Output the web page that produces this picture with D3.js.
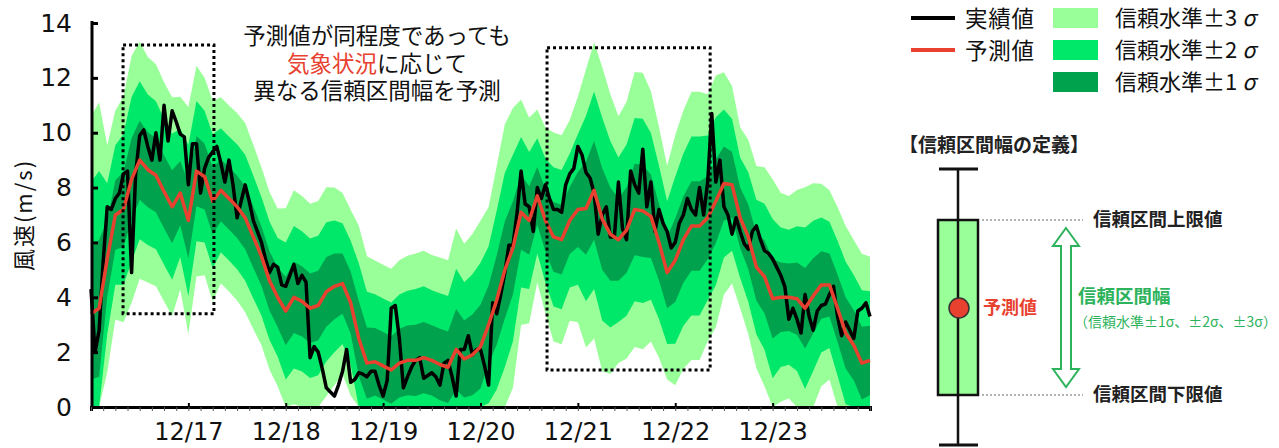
<!DOCTYPE html>
<html>
<head>
<meta charset="utf-8">
<script src="https://cdn.jsdelivr.net/npm/d3@7"></script>
<style>
  body { margin: 0; background: #fff; }
  svg { display: block; }
  text { font-family: "Noto Sans CJK JP", sans-serif; }
</style>
</head>
<body>
<script>
// hourly measured wind speed, 12/16 00:00 .. 12/24 00:00
const hoursActual = d3.range(0, 193);
const actual = [
  4.3, 2.0, 2.8, 5.3, 7.3, 7.2, 7.6, 7.8, 8.5, 8.6,
  4.9, 8.5, 9.9, 10.1, 9.5, 9.0, 10.0, 9.0, 11.0, 9.7,
  10.8, 10.4, 9.95, 9.85, 8.1, 9.6, 9.6, 7.8, 8.7, 9.1,
  9.3, 9.5, 8.9, 8.2, 9.0, 8.1, 6.9, 7.5, 8.1, 7.5,
  6.8, 6.4, 6.0, 5.4, 4.9, 5.2, 5.1, 4.45, 4.4, 4.8,
  5.2, 4.5, 4.8, 4.55, 1.8, 2.2, 2.0, 1.4, 0.7, 0.55,
  0.4, 0.8, 1.3, 2.1, 0.9, 1.0, 1.25, 1.2, 1.1, 1.3,
  1.3, 0.8, 0.4, 0.97, 3.6, 3.7, 2.5, 0.7, 1.1, 1.45,
  1.7, 1.8, 1.05, 1.15, 1.25, 1.1, 0.8, 1.6, 1.7, 1.1,
  0.4, 2.1, 2.1, 2.6, 1.9, 2.1, 2.1, 1.5, 0.8, 3.8,
  3.4, 4.1, 4.9, 5.9, 5.9, 7.06, 8.6, 7.4, 7.3, 6.4,
  8.0, 7.6, 8.1, 7.6, 7.2, 7.2, 7.1, 8.1, 8.5, 8.7,
  9.5, 9.2, 8.55, 8.35, 7.8, 6.3, 7.0, 7.3, 6.2, 6.2,
  8.2, 6.5, 6.1, 8.6, 8.1, 7.8, 9.4, 7.3, 8.2, 6.4,
  7.2, 6.7, 6.4, 5.8, 6.0, 6.7, 7.0, 7.6, 7.2, 7.0,
  8.0, 7.0, 8.2, 10.7, 8.2, 9.0, 7.3, 7.0, 6.3, 6.9,
  6.4, 5.95, 5.75, 6.4, 6.6, 6.1, 5.7, 5.6, 5.4, 5.1,
  4.8, 4.4, 3.2, 3.6, 3.2, 2.7, 4.1, 3.3, 2.8, 3.5,
  3.7, 3.75, 4.1, 4.4, 3.3, 2.6, 3.1, 2.8, 2.5, 3.5,
  3.6, 3.8, 3.3
];

// forecast and its sigma, every 2 hours
const hoursPred = d3.range(0, 193, 2);
const predicted = [
  3.4, 3.6, 5.4, 7.0, 7.2, 8.3, 9.0, 8.65, 8.45, 7.85,
  7.3, 7.8, 6.8, 8.6, 8.4, 7.5, 7.9, 7.6, 7.3, 6.9,
  6.2, 5.5, 4.6, 4.0, 3.5, 4.0, 3.85, 3.6, 3.7, 4.2,
  4.4, 4.5, 3.8, 2.5, 1.6, 1.65, 1.5, 1.35, 1.6, 1.7,
  1.7, 1.8, 1.7, 1.55, 1.45, 2.1, 1.75, 1.9, 2.2, 3.0,
  3.9, 5.0, 5.8, 7.1, 6.8, 7.7, 6.8, 6.2, 6.1, 6.8,
  7.2, 7.24, 7.9, 6.85, 6.3, 6.1, 6.45, 7.2, 7.15, 6.95,
  6.0, 4.9, 5.35, 6.1, 6.6, 6.6, 6.9, 7.5, 8.15, 8.1,
  6.9, 6.2, 5.1, 4.75, 3.95, 4.0, 4.0, 3.95, 3.6, 4.05,
  4.45, 4.45, 3.6, 2.7, 2.25, 1.6, 1.7
];
const sigma = [
  2.4, 2.5, 1.38, 1.27, 1.37, 1.5, 1.44, 1.37, 1.35, 1.33,
  1.33, 1.17, 1.38, 1.28, 1.2, 1.22, 1.13, 1.13, 1.14, 1.15,
  1.12, 1.08, 1.08, 1.08, 1.25, 1.3, 1.28, 1.27, 1.27, 1.27,
  1.2, 1.1, 1.13, 1.37, 1.3, 1.23, 1.23, 1.23, 1.25, 1.27,
  1.3, 1.3, 1.28, 1.3, 1.3, 1.47, 1.4, 1.47, 1.53, 1.43,
  1.63, 1.77, 1.7, 1.37, 1.25, 1.05, 1.13, 1.27, 1.27, 1.22,
  1.37, 1.69, 1.8, 1.85, 1.7, 1.5, 1.56, 1.67, 1.68, 1.52,
  1.4, 1.3, 1.52, 1.57, 1.63, 1.63, 1.5, 1.53, 1.35, 1.2,
  1.1, 1.18, 1.23, 1.33, 1.45, 1.27, 1.23, 1.32, 1.47, 1.37,
  1.23, 1.15, 1.23, 1.3, 1.28, 1.33, 1.26
];

const dayHours = [24, 48, 72, 96, 120, 144, 168];
const dayLabels = ["12/17", "12/18", "12/19", "12/20", "12/21", "12/22", "12/23"];
const yTicks = [0, 2, 4, 6, 8, 10, 12, 14];
const levels = [3, 2, 1];
const levelColors = ["#99ff99", "#00e86a", "#00a24e"];
// highlighted periods (hour from, hour to, value low, value high)
const boxes = [
  [7.9, 30.3, 3.4, 13.2],
  [112.4, 152.6, 1.35, 13.1],
];

const width = 1279;
const height = 448;
const red = "#e8412f";
const green = "#2db35c";
const numFont = '"DejaVu Sans", sans-serif';

const svg = d3.select("body").append("svg")
  .attr("width", width)
  .attr("height", height);

const x = d3.scaleLinear([0, 192], [91, 870]);
const y = d3.scaleLinear([0, 14], [407, 23]);

// confidence bands
levels.forEach((k, j) => {
  const area = d3.area()
    .x((d) => x(d))
    .y0((d, i) => y(Math.max(0, predicted[i] - k * sigma[i])))
    .y1((d, i) => y(Math.min(14, predicted[i] + k * sigma[i])));
  svg.append("path")
    .datum(hoursPred)
    .attr("fill", levelColors[j])
    .attr("d", area);
});

// lines
svg.append("path")
  .datum(actual)
  .attr("fill", "none")
  .attr("stroke", "#000")
  .attr("stroke-width", 3.5)
  .attr("stroke-linejoin", "round")
  .attr("d", d3.line().x((d, i) => x(hoursActual[i])).y((d) => y(d)));

svg.append("path")
  .datum(predicted)
  .attr("fill", "none")
  .attr("stroke", red)
  .attr("stroke-width", 3.5)
  .attr("stroke-linejoin", "round")
  .attr("d", d3.line().x((d, i) => x(hoursPred[i])).y((d) => y(d)));

// dotted boxes
svg.append("g")
  .selectAll("rect")
  .data(boxes)
  .join("rect")
  .attr("x", (d) => x(d[0]))
  .attr("y", (d) => y(d[3]))
  .attr("width", (d) => x(d[1]) - x(d[0]))
  .attr("height", (d) => y(d[2]) - y(d[3]))
  .attr("fill", "none")
  .attr("stroke", "#000")
  .attr("stroke-width", 3)
  .attr("stroke-dasharray", "3,3");

// y axis
const yAxis = svg.append("g")
  .attr("transform", `translate(${x(0) + 1},0)`)
  .call(d3.axisLeft(y).tickValues(yTicks).tickSize(-6).tickSizeOuter(0).tickPadding(20));
yAxis.select(".domain").attr("stroke-width", 3).attr("d", `M0,${y(0) + 1.5}V${y(14) - 2}`);
yAxis.selectAll(".tick line").attr("stroke-width", 3);
yAxis.selectAll(".tick text")
  .attr("font-size", 25)
  .attr("fill", "#111")
  .style("font-family", numFont);

// x axis: minor ticks every 3 h, major ticks at midnight
const xMinor = svg.append("g")
  .attr("transform", `translate(0,${y(0)})`)
  .call(d3.axisBottom(x).tickValues(d3.range(0, 193, 3)).tickSize(4).tickFormat(""));
xMinor.select(".domain").attr("stroke-width", 3);
xMinor.selectAll(".tick line").attr("stroke", "#555").attr("stroke-width", 1);

const xAxis = svg.append("g")
  .attr("transform", `translate(0,${y(0)})`)
  .call(d3.axisBottom(x).tickValues(dayHours).tickSize(-4).tickPadding(16)
    .tickFormat((d, i) => dayLabels[i]));
xAxis.select(".domain").remove();
xAxis.selectAll(".tick line").attr("stroke-width", 2);
xAxis.selectAll(".tick text")
  .attr("font-size", 24)
  .attr("fill", "#111")
  .style("font-family", numFont);

svg.append("text")
  .attr("transform", "translate(32,215) rotate(-90)")
  .attr("text-anchor", "middle")
  .attr("font-size", 22)
  .attr("letter-spacing", 2)
  .attr("fill", "#111")
  .text("風速(m/s)");

// annotation, one text block of three lines
const note = svg.append("text")
  .attr("font-size", 22.5)
  .attr("fill", "#111")
  .attr("text-anchor", "middle")
  .attr("y", 44);
note.append("tspan").attr("x", 377).text("予測値が同程度であっても");
note.append("tspan").attr("x", 377).attr("dy", 28).attr("fill", red).text("気象状況");
note.append("tspan").text("に応じて");
note.append("tspan").attr("x", 377).attr("dy", 27).text("異なる信頼区間幅を予測");

// legend
const legend = svg.append("g").attr("fill", "#111");
[["実績値", "#000", 18], ["予測値", red, 50]].forEach(([t, c, yy]) => {
  legend.append("line")
    .attr("x1", 911).attr("x2", 955).attr("y1", yy).attr("y2", yy)
    .attr("stroke", c).attr("stroke-width", 4);
  legend.append("text").attr("x", 965).attr("y", yy + 1).attr("dy", "0.36em")
    .attr("font-size", 22.5).attr("letter-spacing", 0.8).text(t);
});
levels.forEach((k, j) => {
  const yy = 18 + j * 32;
  legend.append("rect")
    .attr("x", 1053).attr("y", yy - 10).attr("width", 45).attr("height", 20)
    .attr("fill", levelColors[j]);
  const t = legend.append("text").attr("x", 1115).attr("y", yy).attr("dy", "0.36em")
    .attr("font-size", 22);
  t.append("tspan").text("信頼水準±");
  t.append("tspan").attr("letter-spacing", 5).text(`${k}`);
  t.append("tspan").attr("font-style", "italic").text("σ");
});

// definition diagram
const def = svg.append("g");
def.append("text")
  .attr("x", 899).attr("y", 145).attr("dy", "0.35em")
  .attr("font-size", 19).attr("font-weight", "bold").attr("fill", "#222")
  .text("【信頼区間幅の定義】");

const cx = 958;
def.append("line").attr("x1", cx).attr("x2", cx).attr("y1", 169).attr("y2", 446)
  .attr("stroke", "#111").attr("stroke-width", 2.5);
[169, 445].forEach((yy) => {
  def.append("line").attr("x1", 939).attr("x2", 978).attr("y1", yy).attr("y2", yy)
    .attr("stroke", "#111").attr("stroke-width", 3);
});
def.append("rect")
  .attr("x", 938).attr("y", 220).attr("width", 40).attr("height", 175)
  .attr("fill", "#99ff99").attr("stroke", "#111").attr("stroke-width", 2.5);
def.append("line").attr("x1", cx).attr("x2", cx).attr("y1", 220).attr("y2", 395)
  .attr("stroke", "#111").attr("stroke-width", 2.5);
def.append("circle").attr("cx", cx + 1).attr("cy", 308).attr("r", 10)
  .attr("fill", red).attr("stroke", "#333").attr("stroke-width", 1.5);
def.append("text").attr("x", 983).attr("y", 308).attr("dy", "0.35em")
  .attr("font-size", 18).attr("font-weight", "bold").attr("fill", red).text("予測値");

[220, 395].forEach((yy) => {
  def.append("line").attr("x1", 982).attr("x2", 1083).attr("y1", yy).attr("y2", yy)
    .attr("stroke", "#999").attr("stroke-width", 1.5).attr("stroke-dasharray", "2,2");
});
def.append("text").attr("x", 1093).attr("y", 220).attr("dy", "0.35em")
  .attr("font-size", 18.5).attr("font-weight", "bold").attr("fill", "#222").text("信頼区間上限値");
def.append("text").attr("x", 1093).attr("y", 395).attr("dy", "0.35em")
  .attr("font-size", 18.5).attr("font-weight", "bold").attr("fill", "#222").text("信頼区間下限値");

const ax = 1066, arrowTop = 228, arrowBot = 387;
const arrow = [
  [ax, arrowTop], [ax + 13, arrowTop + 18], [ax + 5, arrowTop + 18], [ax + 5, arrowBot - 18],
  [ax + 13, arrowBot - 18], [ax, arrowBot], [ax - 13, arrowBot - 18], [ax - 5, arrowBot - 18],
  [ax - 5, arrowTop + 18], [ax - 13, arrowTop + 18],
];
def.append("path")
  .attr("d", d3.line()(arrow) + "Z")
  .attr("fill", "#fff").attr("stroke", green).attr("stroke-width", 2);
def.append("text").attr("x", 1078).attr("y", 297).attr("dy", "0.35em")
  .attr("font-size", 18.5).attr("font-weight", "bold").attr("fill", green).text("信頼区間幅");
def.append("text").attr("x", 1074).attr("y", 322).attr("dy", "0.35em")
  .attr("font-size", 14).attr("fill", green).text("（信頼水準±1σ、±2σ、±3σ）");
</script>
</body>
</html>
